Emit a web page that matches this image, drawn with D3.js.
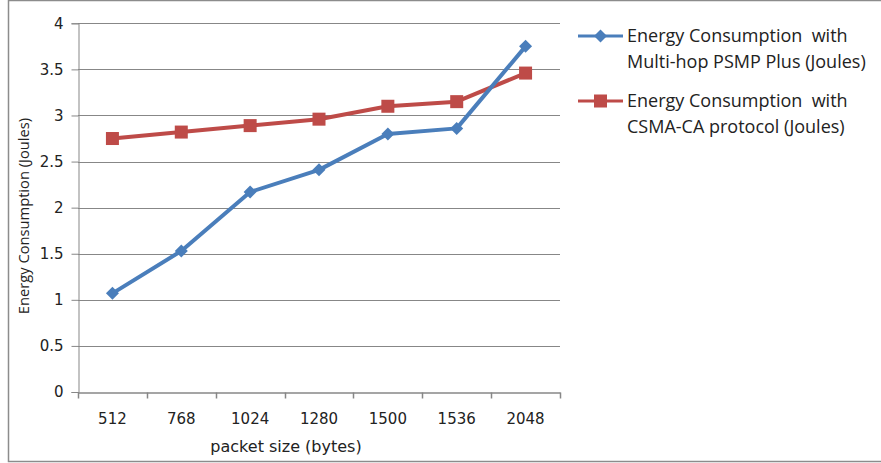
<!DOCTYPE html>
<html>
<head>
<meta charset="utf-8">
<script src="https://cdn.jsdelivr.net/npm/d3@7"></script>
<style>
  html, body { margin: 0; padding: 0; background: #fff; }
  svg { display: block; }
</style>
</head>
<body>
<svg id="chart" width="881" height="463"></svg>
<script>
// Packet sizes (bytes) on the category axis
const categories = ["512", "768", "1024", "1280", "1500", "1536", "2048"];
// Energy consumption (Joules) per packet size
const psmpValues = [1.07, 1.53, 2.17, 2.41, 2.80, 2.86, 3.75];
const csmaValues = [2.75, 2.82, 2.89, 2.96, 3.10, 3.15, 3.46];
const yTicks = [0, 0.5, 1, 1.5, 2, 2.5, 3, 3.5, 4];
const seriesNames = [
  ["Energy Consumption  with", "Multi-hop PSMP Plus (Joules)"],
  ["Energy Consumption  with", "CSMA-CA protocol (Joules)"]
];

const svg = d3.select("#chart");
const W = 881, H = 463;
const plot = { left: 78, right: 560, top: 23.3, bottom: 392 };
const blue = "#4a7ebb", red = "#be4b48", grid = "#878787";
const tickFont = "'DejaVu Sans', Verdana, sans-serif";
const legendFont = "'Open Sans', sans-serif";

// outer chart frame
svg.append("rect")
  .attr("x", 8.5).attr("y", 0.5).attr("width", W + 10).attr("height", 461)
  .attr("fill", "#fff").attr("stroke", "#8c8c8c").attr("stroke-width", 1.5);

const x = d3.scaleBand().domain(categories).range([plot.left, plot.right]).padding(0);
const y = d3.scaleLinear().domain([0, 4]).range([plot.bottom, plot.top]);

// horizontal gridlines
svg.append("g")
  .selectAll("line").data(yTicks.filter(d => d > 0)).join("line")
  .attr("x1", plot.left).attr("x2", plot.right)
  .attr("y1", d => Math.round(y(d)) + 0.5).attr("y2", d => Math.round(y(d)) + 0.5)
  .attr("stroke", grid).attr("stroke-width", 1);

// y axis
const yAxis = svg.append("g")
  .attr("transform", `translate(${plot.left + 0.5},0)`)
  .call(d3.axisLeft(y).tickValues(yTicks).tickSize(7).tickPadding(8).tickFormat(d3.format("")));
yAxis.select(".domain").attr("stroke", grid);
yAxis.selectAll(".tick line").attr("stroke", grid);
yAxis.selectAll(".tick text")
  .attr("font-family", tickFont).attr("font-size", 15).attr("fill", "#222");

// x axis with ticks at category boundaries
const xAxis = svg.append("g")
  .attr("transform", `translate(0,${Math.round(plot.bottom) + 0.5})`)
  .call(d3.axisBottom(x).tickSize(0).tickPadding(21));
xAxis.select(".domain").attr("stroke", grid).attr("stroke-width", 1.5);
xAxis.selectAll(".tick text")
  .attr("font-family", tickFont).attr("font-size", 15).attr("fill", "#222");
const bounds = categories.map(c => x(c)).concat([x(categories[categories.length - 1]) + x.bandwidth()]);
xAxis.selectAll(".bound").data(bounds).join("line").attr("class", "bound")
  .attr("x1", d => Math.round(d) + 0.5).attr("x2", d => Math.round(d) + 0.5)
  .attr("y1", 0).attr("y2", 6).attr("stroke", grid).attr("stroke-width", 1.5);

// axis titles
svg.append("text")
  .attr("x", 286).attr("y", 452)
  .attr("text-anchor", "middle").attr("font-family", tickFont).attr("font-size", 16).attr("fill", "#222")
  .text("packet size (bytes)");
svg.append("text")
  .attr("transform", `translate(29,216) rotate(-90)`)
  .attr("text-anchor", "middle").attr("font-family", legendFont).attr("font-size", 14.7).attr("fill", "#222")
  .text("Energy Consumption (Joules)");

const cx = c => x(c) + x.bandwidth() / 2;
const line = d3.line().x((d, i) => cx(categories[i])).y(d => y(d));

// diamond marker: a square turned 45 degrees
const dHalf = 6.5;
const diamondPath = `M0,${-dHalf}L${dHalf},0L0,${dHalf}L${-dHalf},0Z`;
const square = 13;

// CSMA-CA series
svg.append("path").datum(csmaValues)
  .attr("d", line).attr("fill", "none").attr("stroke", red).attr("stroke-width", 4)
  .attr("stroke-linejoin", "round");
svg.append("g").selectAll("rect").data(csmaValues).join("rect")
  .attr("x", (d, i) => cx(categories[i]) - square / 2).attr("y", d => y(d) - square / 2)
  .attr("width", square).attr("height", square).attr("fill", red);

// PSMP Plus series
svg.append("path").datum(psmpValues)
  .attr("d", line).attr("fill", "none").attr("stroke", blue).attr("stroke-width", 4)
  .attr("stroke-linejoin", "round");
svg.append("g").selectAll("path").data(psmpValues).join("path")
  .attr("d", diamondPath)
  .attr("transform", (d, i) => `translate(${cx(categories[i])},${y(d)})`)
  .attr("fill", blue);

// legend
const legend = svg.append("g");
const entries = [
  { color: blue, marker: "diamond", y: 36, lines: seriesNames[0] },
  { color: red, marker: "square", y: 101, lines: seriesNames[1] }
];
entries.forEach(e => {
  legend.append("line")
    .attr("x1", 578).attr("x2", 623).attr("y1", e.y).attr("y2", e.y)
    .attr("stroke", e.color).attr("stroke-width", 3);
  if (e.marker === "diamond") {
    legend.append("path").attr("d", diamondPath).attr("transform", `translate(600.5,${e.y})`).attr("fill", e.color);
  } else {
    legend.append("rect").attr("x", 600.5 - square / 2).attr("y", e.y - square / 2)
      .attr("width", square).attr("height", square).attr("fill", e.color);
  }
  e.lines.forEach((t, k) => {
    legend.append("text")
      .attr("x", 627).attr("y", e.y + 6 + k * 26)
      .attr("font-family", legendFont).attr("font-size", 18).attr("fill", "#222")
      .attr("xml:space", "preserve")
      .text(t);
  });
});
</script>
</body>
</html>
